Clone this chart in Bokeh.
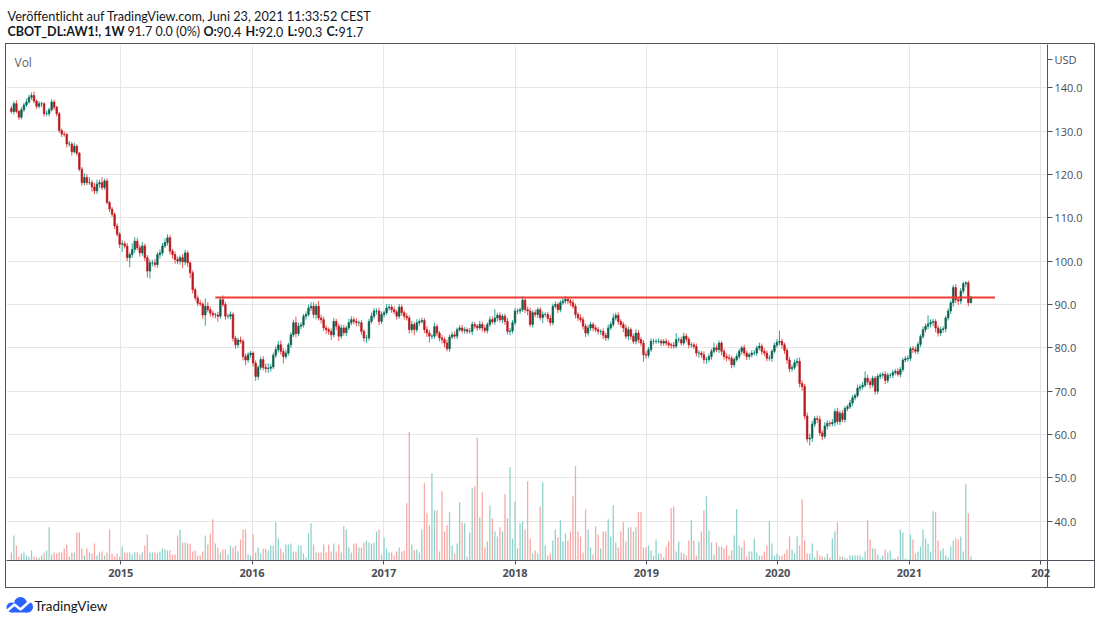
import numpy as np
import pandas as pd
from bokeh.plotting import figure
from bokeh.layouts import column, row
from bokeh.models import Range1d, FixedTicker, Label, ColumnDataSource, NumeralTickFormatter, Spacer
from bokeh.core.properties import value
from bokeh.embed import file_html
from bokeh.resources import INLINE

# ---------------- data ----------------
last_week = "2021-06-21"
first_open = 135.2

close = [
    134.5, 136.3, 134.5, 133.2, 134.9, 136.0, 136.7, 137.8, 138.2, 136.9,
    135.7, 136.3, 136.3, 134.0, 134.0, 134.9, 136.7, 135.5, 134.0, 130.1,
    129.3, 129.2, 127.0, 127.0, 125.2, 126.5, 124.9, 121.2, 118.1, 119.3,
    118.1, 118.1, 117.1, 116.2, 117.8, 118.1, 117.0, 118.5, 113.5, 112.0,
    110.8, 108.1, 106.2, 103.9, 104.0, 103.5, 100.8, 101.5, 102.7, 104.6,
    103.1, 101.9, 103.5, 100.8, 97.7, 99.6, 99.6, 99.2, 101.5, 101.9,
    103.5, 104.3, 105.4, 102.3, 101.5, 100.4, 100.0, 100.8, 99.8, 101.9,
    99.6, 97.3, 93.4, 91.5, 90.3, 90.1, 87.6, 89.6, 88.8, 88.0,
    87.6, 87.6, 87.3, 91.1, 90.0, 87.3, 87.3, 87.7, 82.2, 80.7,
    81.8, 81.5, 78.0, 77.2, 78.4, 78.8, 76.5, 73.4, 75.5, 77.3,
    75.5, 75.2, 75.3, 75.6, 78.3, 79.6, 80.7, 79.2, 78.0, 78.8,
    80.7, 83.0, 85.8, 83.3, 85.0, 85.3, 87.3, 87.7, 89.2, 89.6,
    87.7, 89.6, 86.9, 86.5, 84.6, 84.2, 83.8, 83.0, 86.1, 85.0,
    82.7, 84.6, 83.5, 84.6, 85.8, 86.5, 86.1, 85.8, 85.8, 83.8,
    82.3, 82.3, 86.1, 87.3, 88.5, 88.5, 86.1, 87.7, 88.1, 89.2,
    89.4, 88.8, 88.3, 87.3, 89.4, 88.1, 87.3, 86.9, 84.2, 85.4,
    84.2, 85.8, 86.1, 86.3, 84.2, 83.4, 82.7, 82.7, 84.9, 83.4,
    82.3, 81.9, 81.1, 79.8, 82.5, 83.0, 82.7, 84.2, 84.6, 84.0,
    84.2, 83.8, 83.8, 85.4, 85.0, 84.6, 85.4, 84.6, 84.0, 85.4,
    86.5, 86.0, 86.9, 87.5, 86.5, 87.3, 86.1, 83.8, 83.9, 85.8,
    88.5, 88.5, 88.8, 91.0, 88.8, 88.5, 85.4, 88.1, 87.7, 88.8,
    87.0, 87.7, 87.7, 86.8, 85.8, 89.6, 90.0, 88.8, 90.4, 90.8,
    91.2, 90.8, 90.4, 89.6, 87.7, 86.9, 86.5, 85.0, 83.4, 84.6,
    85.4, 84.6, 84.2, 83.8, 83.8, 82.9, 82.3, 84.6, 85.4, 86.9,
    87.5, 86.1, 85.4, 84.6, 82.7, 84.2, 82.7, 81.5, 83.4, 81.9,
    81.1, 78.4, 78.3, 79.6, 81.5, 81.5, 81.5, 81.5, 81.1, 81.5,
    81.1, 80.7, 80.6, 80.4, 81.9, 81.9, 81.1, 82.7, 82.0, 80.7,
    80.7, 80.3, 78.8, 78.8, 78.4, 77.3, 77.3, 78.0, 79.2, 80.0,
    79.6, 81.1, 79.2, 78.0, 77.7, 77.6, 76.1, 77.3, 78.0, 79.2,
    80.0, 78.8, 78.0, 78.4, 78.8, 78.8, 80.0, 80.4, 79.2, 78.8,
    77.6, 77.6, 79.2, 80.6, 81.3, 81.5, 80.7, 79.4, 77.2, 75.2,
    75.5, 76.6, 76.9, 71.8, 71.1, 64.3, 59.0, 59.2, 62.4, 63.7,
    63.5, 60.4, 59.6, 62.0, 62.6, 62.5, 62.8, 65.3, 63.0, 64.9,
    63.5, 66.0, 66.4, 67.3, 68.5, 69.0, 70.7, 71.0, 71.4, 73.0,
    72.2, 71.5, 73.0, 70.0, 73.4, 73.7, 73.9, 72.5, 73.7, 73.7,
    74.3, 74.6, 73.9, 75.0, 77.2, 77.5, 77.6, 79.8, 79.6, 79.2,
    80.8, 82.6, 84.2, 85.0, 85.5, 85.9, 86.1, 84.6, 83.4, 84.2,
    84.4, 86.9, 88.5, 90.4, 93.9, 91.1, 90.8, 93.1, 94.8, 95.0,
    90.4, 91.7,
]

wick_up = [
    0.6, 0.5, 0.8, 0.4, 0.6, 0.5, 0.8, 0.6, 0.7, 0.9,
    0.4, 0.6, 0.5, 0.4, 0.7, 0.5, 0.6, 0.5, 0.3, 0.4,
    0.5, 0.6, 0.4, 0.7, 0.5, 0.8, 0.4, 0.3, 0.5, 0.9,
    0.8, 1.2, 0.6, 0.9, 1.0, 0.7, 1.3, 0.5, 0.6, 0.4,
    0.5, 0.4, 0.6, 0.5, 0.8, 0.6, 0.7, 0.5, 1.4, 0.9,
    0.8, 0.7, 0.9, 0.5, 0.6, 0.8, 0.7, 0.9, 0.6, 0.8,
    0.7, 0.9, 0.8, 0.6, 0.5, 0.7, 0.6, 0.5, 0.8, 0.7,
    0.5, 0.4, 0.6, 0.5, 0.6, 0.8, 0.5, 1.8, 0.9, 0.7,
    0.6, 0.5, 0.7, 0.6, 1.0, 0.5, 0.6, 0.7, 0.5, 0.6,
    0.6, 0.8, 0.5, 0.7, 0.6, 0.5, 0.4, 0.6, 0.5, 0.7,
    0.8, 0.9, 1.1, 0.7, 0.6, 0.8, 0.9, 1.0, 0.7, 0.8,
    0.5, 0.6, 0.7, 1.4, 0.8, 0.6, 0.5, 0.7, 0.8, 0.9,
    0.9, 0.6, 1.2, 0.8, 0.7, 0.6, 0.5, 0.7, 0.8, 0.6,
    0.6, 0.8, 0.7, 0.5, 0.9, 0.8, 0.6, 0.7, 0.5, 0.6,
    0.5, 0.7, 0.6, 0.8, 0.7, 0.6, 0.8, 0.7, 0.5, 0.9,
    0.7, 0.6, 0.8, 0.5, 0.7, 0.6, 0.5, 0.7, 0.6, 0.8,
    0.6, 0.8, 0.5, 0.7, 0.6, 0.8, 0.7, 0.5, 0.9, 0.6,
    0.5, 0.7, 0.6, 0.8, 0.6, 0.7, 0.8, 0.5, 0.6, 0.7,
    0.6, 0.5, 0.8, 0.7, 0.6, 0.5, 0.8, 0.6, 0.7, 0.5,
    0.8, 0.7, 2.0, 0.6, 0.7, 0.5, 0.6, 0.8, 0.7, 0.6,
    0.7, 0.6, 0.5, 0.9, 0.6, 0.7, 0.8, 0.6, 0.7, 0.5,
    0.6, 0.7, 0.5, 0.6, 0.8, 0.6, 0.7, 0.5, 0.6, 0.7,
    0.8, 0.6, 0.5, 0.7, 0.6, 0.5, 0.8, 0.7, 0.6, 0.7,
    0.6, 0.5, 0.7, 0.6, 0.5, 0.7, 0.6, 0.8, 0.7, 1.0,
    0.6, 0.7, 0.5, 0.6, 0.8, 0.7, 0.5, 0.6, 0.9, 0.7,
    0.6, 0.7, 0.8, 0.6, 0.7, 0.6, 0.5, 0.7, 0.6, 0.5,
    0.7, 0.6, 0.5, 0.7, 1.5, 0.6, 0.7, 0.8, 0.6, 0.5,
    0.6, 0.5, 0.7, 0.6, 0.5, 0.8, 0.6, 0.7, 0.6, 1.2,
    0.7, 0.6, 0.5, 0.6, 0.7, 0.8, 0.6, 0.5, 0.7, 0.6,
    0.5, 0.7, 0.6, 0.5, 0.6, 0.7, 0.5, 0.8, 0.6, 0.7,
    0.6, 0.7, 0.5, 0.6, 0.7, 2.5, 0.6, 0.5, 0.6, 0.7,
    0.6, 0.7, 0.8, 0.9, 0.7, 0.6, 0.8, 1.0, 0.8, 0.6,
    0.7, 0.8, 0.6, 0.9, 0.7, 0.6, 0.8, 0.7, 0.9, 0.6,
    0.7, 0.6, 0.5, 0.7, 0.6, 0.5, 0.8, 0.6, 0.7, 1.6,
    0.8, 0.7, 0.6, 0.5, 0.7, 0.6, 0.5, 0.7, 0.6, 0.5,
    0.6, 0.5, 0.7, 0.6, 0.5, 0.6, 0.7, 0.5, 0.6, 0.7,
    0.6, 0.5, 0.7, 0.6, 2.0, 0.7, 0.6, 0.5, 0.6, 0.7,
    0.6, 0.5, 0.6, 0.5, 0.6, 0.8, 0.6, 0.7, 0.5, 0.4,
    0.5, 0.3,
]

wick_dn = [
    0.5, 0.7, 0.4, 0.6, 0.5, 0.6, 0.5, 0.4, 0.6, 0.5,
    0.6, 0.5, 0.8, 0.7, 0.5, 0.6, 0.4, 0.7, 0.6, 0.5,
    0.7, 0.5, 0.8, 0.6, 0.9, 0.4, 0.6, 0.5, 0.7, 0.6,
    0.6, 0.5, 1.1, 0.8, 0.7, 0.9, 0.6, 0.5, 0.4, 0.7,
    0.6, 0.7, 0.5, 0.9, 1.8, 0.6, 0.8, 2.2, 0.7, 0.8,
    0.6, 0.9, 0.7, 0.8, 1.5, 1.7, 0.8, 0.6, 0.7, 0.9,
    0.6, 0.5, 0.7, 0.8, 0.9, 1.0, 0.7, 0.8, 1.4, 0.7,
    0.9, 1.2, 0.8, 0.6, 0.7, 0.5, 0.9, 2.5, 0.6, 0.8,
    0.7, 0.8, 1.3, 0.6, 0.5, 0.8, 0.6, 0.7, 0.8, 0.9,
    0.7, 0.5, 0.9, 1.2, 0.6, 0.7, 0.8, 1.0, 0.8, 0.6,
    0.7, 0.9, 1.0, 0.8, 0.5, 0.6, 0.7, 0.8, 1.6, 0.6,
    0.6, 0.7, 0.5, 0.9, 0.6, 0.7, 0.6, 0.8, 0.5, 0.7,
    0.8, 1.1, 0.6, 0.9, 0.7, 1.0, 0.8, 1.2, 0.6, 0.9,
    1.1, 0.6, 0.7, 0.8, 0.5, 0.6, 0.7, 0.8, 0.9, 0.8,
    0.9, 1.2, 0.6, 0.5, 0.7, 0.8, 0.9, 0.6, 0.7, 0.5,
    0.6, 0.7, 0.5, 0.8, 0.6, 0.7, 0.8, 0.6, 0.9, 0.7,
    1.3, 0.6, 0.7, 0.5, 0.8, 0.9, 1.5, 0.7, 0.6, 0.8,
    0.8, 0.9, 1.0, 0.6, 0.7, 0.5, 0.6, 0.7, 0.5, 0.6,
    0.7, 0.6, 0.5, 0.8, 0.6, 0.7, 0.5, 0.9, 0.6, 0.7,
    0.6, 0.5, 0.7, 0.8, 0.6, 0.9, 0.8, 0.7, 0.9, 0.6,
    0.6, 0.8, 0.7, 0.5, 0.8, 1.0, 0.6, 0.7, 0.6, 0.8,
    0.7, 1.3, 0.6, 0.8, 0.7, 0.6, 0.5, 0.8, 0.6, 0.5,
    0.6, 0.7, 0.8, 0.6, 0.9, 0.7, 0.6, 0.8, 0.9, 0.6,
    0.7, 0.8, 0.6, 0.7, 0.8, 0.9, 0.7, 0.6, 0.5, 0.6,
    0.6, 0.8, 0.7, 1.0, 0.6, 0.9, 0.8, 0.6, 0.7, 0.8,
    0.7, 1.6, 0.8, 0.6, 0.5, 0.7, 0.6, 0.5, 0.7, 0.6,
    0.6, 0.7, 0.8, 0.6, 0.5, 0.7, 0.6, 0.5, 0.7, 0.8,
    0.7, 0.6, 0.8, 1.0, 0.7, 0.9, 1.0, 0.6, 0.7, 0.5,
    0.6, 0.8, 0.9, 0.7, 0.8, 0.6, 0.8, 0.6, 0.5, 0.6,
    0.7, 0.6, 0.8, 0.7, 0.6, 0.5, 0.7, 0.6, 0.8, 0.7,
    0.7, 0.6, 0.8, 0.5, 0.6, 0.7, 0.9, 0.8, 0.9, 0.8,
    0.7, 0.6, 0.8, 0.9, 1.0, 0.8, 0.8, 1.5, 0.9, 0.7,
    0.8, 0.7, 0.9, 0.6, 0.8, 0.7, 0.6, 0.9, 0.7, 0.8,
    0.6, 0.7, 0.6, 0.5, 0.7, 0.6, 0.5, 0.7, 0.6, 0.5,
    0.7, 0.9, 0.6, 0.8, 0.7, 0.6, 0.7, 0.9, 0.6, 0.7,
    0.7, 0.6, 0.5, 0.7, 0.6, 0.5, 0.7, 0.6, 0.8, 0.6,
    0.7, 0.6, 0.5, 0.6, 0.7, 0.8, 0.9, 1.0, 0.8, 0.7,
    0.7, 0.8, 0.6, 0.7, 0.9, 0.8, 0.9, 0.7, 0.6, 0.8,
    0.8, 0.1,
]

volume = [
    8, 25, 15, 4, 7, 8, 5, 4, 10, 4,
    3, 3, 5, 8, 10, 33, 6, 8, 7, 8,
    8, 12, 16, 4, 8, 8, 28, 28, 12, 5,
    12, 8, 7, 17, 5, 8, 9, 5, 8, 31,
    7, 4, 7, 4, 14, 8, 8, 8, 6, 8,
    8, 6, 8,
    15, 26, 8, 8, 8, 7, 9, 12, 11, 10,
    10, 6, 6, 25, 31, 18, 18, 17, 17, 9,
    10, 5, 5, 9, 25, 16, 27, 41, 17, 13,
    8, 11, 11, 6, 15, 13, 15, 9, 21, 31,
    31, 6, 5, 26, 8, 13, 7, 12, 12, 10,
    15, 15, 38, 22, 12, 8, 16, 16, 17, 9,
    9, 15, 15, 7, 3, 27, 37, 16, 8, 8,
    8, 16, 8, 16, 9, 17, 9, 16, 8, 34,
    31, 13, 8, 17, 17, 13, 13, 18, 20, 18,
    17, 18, 29, 31, 6, 23, 12, 8, 8, 5,
    9, 13, 9,
    10, 57, 128, 16, 10, 11, 8, 31, 77, 47,
    35, 87, 50, 50, 9, 69, 29, 35, 48, 15,
    7, 17, 58, 38, 37, 4, 28, 72, 74, 122,
    43, 68, 13, 19, 55, 42, 29, 24, 33, 29,
    66, 42, 93, 22, 59, 12, 37, 39, 31, 79,
    22, 7, 10, 7, 54, 78, 15, 5, 7, 20,
    31, 23, 40, 19, 27, 20, 29, 64, 94, 29,
    24, 8, 51, 31, 13, 6, 34, 26, 12, 29,
    29, 41, 24, 55, 18, 13, 29, 38, 19, 33,
    33, 29, 33, 48, 48, 13, 13, 15, 10, 5,
    21, 7, 7, 3, 14, 19, 52, 54, 9, 19,
    8, 7, 5, 20, 40, 20, 5, 19, 29, 50,
    64, 30, 18, 6, 18, 14, 14,
    12, 15, 5, 10, 25, 51, 15, 13, 20, 4,
    9, 9, 22, 8, 5, 5, 9, 15, 39, 17,
    5, 7, 5, 5, 7, 11, 24, 11, 7, 24,
    15, 61, 20, 7, 7, 17, 3, 10, 5, 4,
    3, 7, 3, 22, 29, 38, 4, 4, 3, 2,
    5, 5, 5, 5, 5, 3, 9, 40, 21, 12,
    12, 6, 2, 5, 11, 8, 10, 2, 2, 4,
    31, 28, 2, 1, 26, 21, 7, 9, 14, 31,
    22, 17, 9, 49, 48, 20, 10, 12, 5, 3,
    14, 20, 22, 21, 24, 9, 76, 47, 4,
]

year_ticks = ["2015-01-01", "2016-01-01", "2017-01-01", "2018-01-01",
              "2019-01-01", "2020-01-01", "2021-01-01", "2022-01-01"]
year_labels = ["2015", "2016", "2017", "2018", "2019", "2020", "2021", "202"]
price_ticks = [40, 50, 60, 70, 80, 90, 100, 110, 120, 130, 140]
currency_label = "USD"
resist_dates = ["2015-09-21", "2021-08-27"]
resist_level = [91.6, 91.6]

header_line1 = "Veröffentlicht auf TradingView.com, Juni 23, 2021 11:33:52 CEST"
header_parts = ["CBOT_DL:AW1!, 1W", "91.7 0.0 (0%)", "O:", "90.4", "H:", "92.0",
                "L:", "90.3", "C:", "91.7"]
header_bold = [True, False, True, False, True, False, True, False, True, False]

# ---------------- layout / style ----------------
PAGE_W = 1100
header_x = [7, 127, 203, 216, 245, 258, 287, 297, 326, 338]
FONT = "Open Sans"
HFONT = "Lato"
FRAME_W, FRAME_H = 1039, 514
RIGHT_W, BOTTOM_H = 49, 29
BOX_LEFT = 5
LINE_COL = "#50535e"
TEXT_COL = "#131722"
USD_AT = 146.6   # price level at which the currency badge sits


def ms(s):
    return float(pd.Timestamp(s).value / 1e6)


n = len(close)
dates = pd.date_range(end=last_week, periods=n, freq="7D")
t = np.array([ms(d) for d in dates])
c = np.array(close, dtype=float)
o = np.array([first_open] + close[:-1], dtype=float)
body_top = np.maximum(o, c)
body_bot = np.minimum(o, c)
hi = body_top + np.array(wick_up[:n])
lo = body_bot - np.array(wick_dn[:n])
up = c >= o

src = ColumnDataSource(dict(
    t=t, top=body_top, bottom=body_bot, hi=hi, lo=lo,
    vol=np.array(volume[:n], dtype=float),
    body_color=np.where(up, "#0f5e4b", "#b8181e"),
    wick_color=np.where(up, "#26a69a", "#ef5350"),
    vol_color=np.where(up, "#8dd1ca", "#f7a6a2"),
))

x0 = ms("2014-02-17 12:00")
x1 = ms("2022-01-20")
y0, y1 = 30.97, 149.95
DAY = 86400000.0

p = figure(width=FRAME_W + RIGHT_W + 2, height=FRAME_H + BOTTOM_H + 2,
           x_axis_type="datetime", y_axis_location="right",
           x_range=Range1d(x0, x1), y_range=Range1d(y0, y1),
           output_backend="svg", toolbar_location=None,
           min_border_left=0, min_border_top=0,
           min_border_right=RIGHT_W, min_border_bottom=BOTTOM_H,
           background_fill_color="white", border_fill_color="white",
           styles={"border": "1px solid " + LINE_COL})
p.outline_line_color = None

xa = p.xaxis[0]
xa.ticker = FixedTicker(ticks=[ms(s) for s in year_ticks], minor_ticks=[x1])
xa.major_label_overrides = {ms(s): lab for s, lab in zip(year_ticks, year_labels)}
xa.axis_line_color = LINE_COL
xa.major_tick_line_color = LINE_COL
xa.major_tick_in = 0
xa.major_tick_out = 4
xa.minor_tick_line_color = LINE_COL
xa.minor_tick_in = 0
xa.minor_tick_out = BOTTOM_H
xa.major_label_standoff = 4 + 4 - BOTTOM_H
xa.major_label_text_font = FONT
xa.major_label_text_font_size = "11px"
xa.major_label_text_font_style = "bold"
xa.major_label_text_color = "#4a4d57"

ya = p.yaxis[0]
ya.ticker = FixedTicker(ticks=price_ticks + [USD_AT], minor_ticks=[y0])
ya.formatter = NumeralTickFormatter(format="0.0")
ya.major_label_overrides = {USD_AT: currency_label}
ya.axis_line_color = LINE_COL
ya.major_tick_line_color = LINE_COL
ya.major_tick_in = 0
ya.major_tick_out = 5
ya.minor_tick_line_color = LINE_COL
ya.minor_tick_in = 0
ya.minor_tick_out = RIGHT_W
ya.major_label_standoff = 5 + 2 - RIGHT_W
ya.major_label_text_font = FONT
ya.major_label_text_font_size = "11px"
ya.major_label_text_color = "#4a4d57"

p.xgrid.grid_line_color = "#e6e6e6"
p.ygrid.grid_line_color = "#e6e6e6"
p.ygrid[0].ticker = FixedTicker(ticks=price_ticks)

# volume overlay
p.extra_y_ranges = {"vol": Range1d(0, FRAME_H)}
p.vbar(x="t", width=3.5 * DAY, top="vol", bottom=0, y_range_name="vol",
       fill_color="vol_color", line_color=None, source=src)

# candles
p.segment(x0="t", y0="hi", x1="t", y1="lo", line_color="wick_color",
          line_width=1, source=src)
p.vbar(x="t", width=4.5 * DAY, top="top", bottom="bottom",
       fill_color="body_color", line_color="body_color", line_width=0.6, source=src)

# resistance line
p.line(x=[ms(s) for s in resist_dates], y=resist_level, line_color="#f23a33",
       line_width=2)

p.add_layout(Label(x=8, y=FRAME_H - 16, x_units="screen", y_units="screen",
                   text="Vol", text_font=FONT, text_font_size="12px",
                   text_color="#5d606b", text_baseline="middle"))

# ---------------- header ----------------
h = figure(width=PAGE_W, height=43, x_range=Range1d(0, PAGE_W), y_range=Range1d(43, 0),
           x_axis_location=None, y_axis_location=None, toolbar_location=None,
           output_backend="svg", min_border=0)
h.outline_line_color = None
h.grid.visible = False
h.text(x=[7], y=[15], text=[header_line1], text_font=value(HFONT),
       text_font_size="12.7px", text_color=TEXT_COL, text_baseline="middle")
bx = [x for x, b in zip(header_x, header_bold) if b]
bt = [s for s, b in zip(header_parts, header_bold) if b]
nx = [x for x, b in zip(header_x, header_bold) if not b]
nt = [s for s, b in zip(header_parts, header_bold) if not b]
h.text(x=bx, y=[31] * len(bx), text=bt, text_font=value(HFONT), text_font_style="bold",
       text_font_size="12.5px", text_color=TEXT_COL, text_baseline="middle")
h.text(x=nx, y=[31] * len(nx), text=nt, text_font=value(HFONT),
       text_font_size="12.5px", text_color=TEXT_COL, text_baseline="middle")

# ---------------- footer logo ----------------
f = figure(width=PAGE_W, height=30, x_range=Range1d(0, PAGE_W), y_range=Range1d(30, 0),
           x_axis_location=None, y_axis_location=None, toolbar_location=None,
           output_backend="svg", min_border=0)
f.outline_line_color = None
f.grid.visible = False
blue = "#2962ff"
f.circle(x=[11, 20, 27], y=[19, 15, 18.5], radius=[5, 6.5, 5.5],
         fill_color=blue, line_color=None)
f.quad(left=[11], right=[27], top=[18], bottom=[24], fill_color=blue, line_color=None)
f.line(x=[7, 14, 20, 30], y=[22, 16, 21, 12], line_color="white", line_width=2.5)
f.text(x=[34], y=[17], text=["TradingView"], text_font=value(HFONT),
       text_font_size="13.5px", text_color=TEXT_COL, text_baseline="middle")

layout = column(h, row(Spacer(width=BOX_LEFT, height=10), p), f)
open("out.html", "w").write(file_html(layout, INLINE))
